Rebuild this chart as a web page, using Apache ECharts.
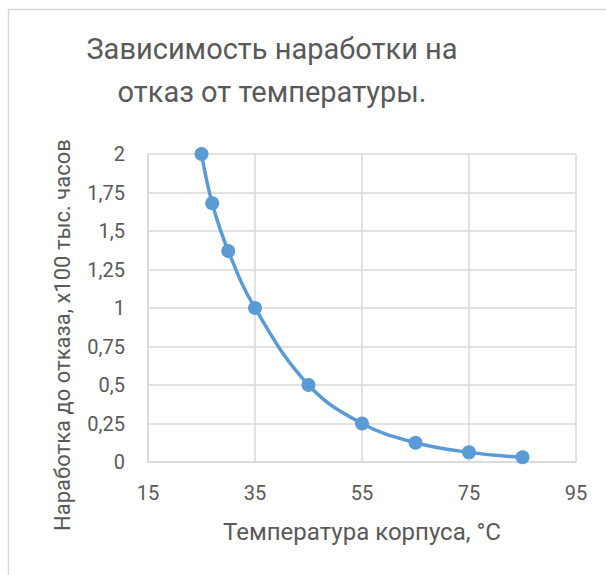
<!DOCTYPE html>
<html>
<head>
<meta charset="utf-8">
<script src="https://cdn.jsdelivr.net/npm/echarts@6/dist/echarts.min.js"></script>
<style>
  html, body { margin: 0; padding: 0; background: #fff; }
  #main { width: 606px; height: 575px; }
</style>
</head>
<body>
<div id="main"></div>
<script>
// температура корпуса, °C
var temps = [25, 27, 30, 35, 45, 55, 65, 75, 85];
// наработка до отказа, x100 тыс. часов
var mtbf = [2, 1.68, 1.37, 1, 0.5, 0.25, 0.125, 0.0625, 0.031];

var chartTitle = 'Зависимость наработки на\nотказ от температуры.';
var xName = 'Температура корпуса, °C';
var yName = 'Наработка до отказа, х100 тыс. часов';

var points = temps.map(function (t, i) { return [t, mtbf[i]]; });

var font = 'Roboto, sans-serif';
var textColor = '#595959';
var gridColor = '#d9d9d9';

var chart = echarts.init(document.getElementById('main'), null, { renderer: 'svg' });

var option = {
  backgroundColor: '#fff',
  animation: false,
  textStyle: { fontFamily: font },
  graphic: [
    {
      type: 'rect',
      shape: { x: 8.5, y: 9.5, width: 800, height: 800 },
      style: { fill: 'none', stroke: gridColor, lineWidth: 1.5 },
      silent: true
    },
    {
      type: 'text',
      x: 62,
      y: 335,
      rotation: Math.PI / 2,
      style: {
        text: yName,
        fill: textColor,
        font: '22px ' + font,
        align: 'center',
        verticalAlign: 'middle'
      }
    }
  ],
  title: {
    text: chartTitle,
    left: 267,
    top: 22,
    textAlign: 'center',
    textStyle: {
      color: textColor,
      fontFamily: font,
      fontWeight: 'normal',
      fontSize: 29,
      lineHeight: 43
    }
  },
  grid: { left: 148, top: 154, width: 428, height: 308, containLabel: false },
  xAxis: {
    type: 'value',
    min: 15,
    max: 95,
    interval: 20,
    name: xName,
    nameLocation: 'middle',
    nameGap: 58,
    nameTextStyle: { color: textColor, fontSize: 24, fontFamily: font },
    axisLine: { show: true, lineStyle: { color: gridColor, width: 1.5 } },
    axisTick: { show: false },
    axisLabel: { color: textColor, fontSize: 20, margin: 21 },
    splitLine: { show: true, lineStyle: { color: gridColor, width: 1.5 } }
  },
  yAxis: {
    type: 'value',
    min: 0,
    max: 2,
    interval: 0.25,
    axisLine: { show: true, lineStyle: { color: gridColor, width: 1.5 } },
    axisTick: { show: false },
    axisLabel: {
      color: textColor,
      fontSize: 20,
      margin: 23,
      formatter: function (v) { return String(v).replace('.', ','); }
    },
    splitLine: { show: true, lineStyle: { color: gridColor, width: 1.5 } }
  },
  series: [
    {
      type: 'line',
      data: points,
      smooth: 0.4,
      symbol: 'circle',
      symbolSize: 14,
      lineStyle: { color: '#5b9bd5', width: 3.5 },
      itemStyle: { color: '#5b9bd5' }
    }
  ]
};

chart.setOption(option);
</script>
</body>
</html>
